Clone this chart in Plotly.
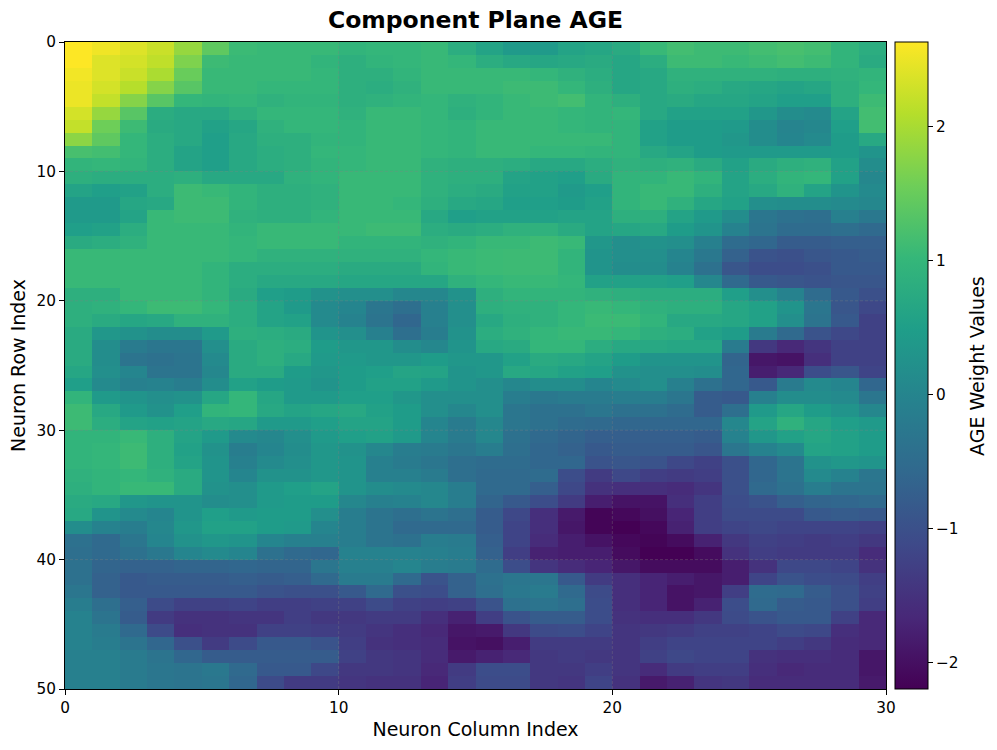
import plotly.graph_objects as go

W, H = 997, 750
FONT = "DejaVu Sans"
LEFT, RIGHT, TOP, BOTTOM = 65, 886, 42, 689

# weights, one list per neuron row (30 columns)
row_00 = [2.63, 2.53, 2.39, 2.24, 1.86, 1.42, 1.08, 1.05, 1.05, 1.05, .95, 1.0, 1.0, 1.05, .8, .6, .4, .4, .6, .65, .75, 1.05, 1.15, 1.1, 1.1, 1.15, 1.2, 1.15, .95, .8]
row_01 = [2.63, 2.39, 2.32, 2.17, 1.68, 1.1, 1.05, 1.05, 1.05, .95, .85, .95, 1.0, 1.05, 1.0, .8, .7, .65, .7, .75, .65, .8, 1.1, 1.1, 1.05, 1.1, 1.15, 1.1, .95, .75]
row_02 = [2.55, 2.39, 2.24, 2.02, 1.5, 1.05, 1.05, 1.05, 1.05, 1.0, .85, .85, .95, 1.05, 1.05, 1.05, 1.05, 1.0, .9, .8, .65, .7, .9, .9, .9, .9, .85, .85, .9, .95]
row_03 = [2.5, 2.32, 2.1, 1.73, 1.35, 1.05, 1.05, 1.0, 1.0, 1.0, .85, .8, .9, 1.05, 1.05, 1.05, 1.1, 1.1, 1.0, .85, .65, .7, .85, .8, .7, .65, .6, .65, .85, 1.0]
row_04 = [2.5, 2.2, 1.73, 1.35, 1.0, .95, 1.0, .9, .95, .95, .85, .9, .95, 1.0, .9, .95, 1.05, 1.1, 1.15, .95, .85, .7, .75, .65, .65, .6, .5, .5, .85, 1.1]
row_05 = [2.32, 1.86, 1.35, .78, .7, .7, .85, 1.0, 1.0, 1.0, .9, 1.05, 1.05, 1.0, .85, .95, 1.05, 1.05, 1.0, .95, 1.0, .7, .55, .55, .55, .35, .15, .1, .6, 1.15]
row_06 = [2.2, 1.55, 1.1, .75, .7, .55, .65, .9, 1.0, 1.0, .95, 1.05, 1.05, 1.0, .95, 1.05, 1.05, 1.05, 1.0, .95, .95, .55, .45, .45, .4, .15, -.02, .05, .5, 1.15]
row_07 = [1.78, 1.42, 1.0, .8, .7, .5, .7, .85, .85, .95, .95, 1.05, 1.05, 1.0, .95, 1.05, 1.05, 1.05, 1.05, 1.05, .95, .55, .45, .45, .35, .15, .0, .1, .45, .7]
row_08 = [1.2, 1.15, 1.0, .8, .6, .5, .7, .8, .85, 1.0, 1.0, 1.05, 1.05, 1.0, .95, 1.05, 1.05, 1.0, 1.0, .95, .95, .7, .6, .45, .4, .4, .4, .4, .45, .3]
row_09 = [.95, 1.0, .95, .8, .6, .5, .7, .8, .85, .95, 1.0, 1.05, 1.05, .9, .85, .85, .8, .7, .7, .8, .9, .85, .9, .75, .55, .75, .85, .9, .55, .15]
row_10 = [.85, .8, .8, .8, .85, .7, .7, .7, .9, .95, 1.05, 1.05, 1.05, .9, .85, .85, .6, .55, .5, .75, .95, .95, 1.05, .95, .6, .8, .95, 1.0, .55, .05]
row_11 = [.6, .5, .55, .8, 1.1, 1.05, .95, .85, .85, .9, 1.05, 1.05, 1.05, .9, .8, .75, .55, .55, .4, .5, .95, 1.05, 1.05, .85, .6, .7, .9, .6, .3, .1]
row_12 = [.4, .4, .65, .7, 1.1, 1.1, .95, .85, .85, .9, 1.05, 1.05, 1.0, .85, .7, .65, .5, .5, .45, .55, .95, 1.05, .9, .65, .55, .2, .15, .15, .1, .05]
row_13 = [.4, .4, .6, 1.05, 1.1, 1.1, .9, .85, .85, .95, 1.05, 1.05, 1.05, .7, .5, .55, .55, .55, .6, .6, .85, .85, .6, .4, .15, -.3, -.4, -.45, -.1, -.25]
row_14 = [.5, .55, .8, 1.05, 1.05, 1.05, .95, 1.05, 1.05, 1.05, 1.05, 1.1, 1.1, .8, .75, .8, .9, .9, .75, .6, .65, .7, .45, .3, -.05, -.35, -.5, -.5, -.45, -.55]
row_15 = [.75, .8, .9, 1.05, 1.05, 1.05, 1.0, 1.05, 1.05, 1.05, .95, .95, .95, .9, .95, 1.05, 1.05, 1.1, 1.05, .35, .2, .25, .2, -.1, -.5, -.6, -.8, -.8, -.75, -.75]
row_16 = [1.05, 1.05, 1.05, 1.05, 1.05, 1.05, 1.0, .9, .9, .9, .9, .9, .9, 1.0, 1.05, 1.08, 1.1, 1.1, .95, .3, .2, .2, .0, -.25, -.7, -.95, -1.0, -.9, -.85, -.8]
row_17 = [1.05, 1.05, 1.05, 1.05, 1.05, .95, .8, .8, .8, .8, .75, .75, .75, .95, 1.05, 1.08, 1.1, 1.1, .95, .3, .15, .15, -.05, -.4, -.9, -1.05, -1.05, -1.0, -.85, -.85]
row_18 = [1.05, 1.05, 1.05, 1.05, 1.05, .95, .8, .7, .7, .7, .65, .65, .65, .65, .9, 1.0, 1.05, 1.05, 1.0, .55, .55, .55, .5, .05, -.55, -.85, -.9, -.95, -.9, -.9]
row_19 = [.85, .85, 1.05, 1.05, 1.05, .95, .75, .5, .45, .25, .2, .2, .05, .05, .25, .85, .95, .95, .95, .9, .85, .8, .8, .8, .5, .2, -.05, -.5, -.85, -1.0]
row_20 = [.85, .9, 1.0, 1.1, 1.1, 1.0, .8, .6, .4, .1, .0, -.3, -.45, -.1, .2, .85, .9, .9, 1.0, 1.05, 1.0, .9, .85, .85, .65, .55, .3, -.3, -.9, -1.15]
row_21 = [.85, .75, .65, .7, .9, .9, .8, .6, .55, .1, -.05, -.35, -.6, -.1, .2, .7, .85, .9, 1.0, 1.08, 1.08, .95, .7, .7, .65, .55, .2, -.35, -.85, -1.25]
row_22 = [.75, .35, .25, .15, .15, .4, .85, .8, .75, .3, .2, -.1, -.45, -.15, .25, .8, .9, 1.0, 1.05, 1.05, 1.0, .85, .8, .55, .45, -.2, -.55, -.95, -1.15, -1.25]
row_23 = [.75, .15, -.2, -.3, -.3, .2, .75, .85, .8, .45, .35, .35, .15, .05, .3, .7, .75, 1.0, 1.0, .8, .7, .7, .65, .65, -.2, -1.4, -1.65, -1.45, -1.25, -1.25]
row_24 = [.75, .15, -.35, -.4, -.35, .1, .75, .85, .7, .4, .4, .35, .35, .45, .35, .35, .55, .75, .7, .6, .45, .3, .3, .3, -.65, -1.9, -1.95, -1.55, -1.25, -1.25]
row_25 = [.65, .2, .0, -.35, -.35, .05, .75, .75, .45, .35, .45, .5, .62, .6, .3, .35, .7, .65, .55, .5, .25, .2, .2, .15, -.6, -1.8, -1.65, -1.05, -.9, -1.2]
row_26 = [.5, .1, -.1, -.05, -.15, .15, .55, .45, .4, .3, .45, .55, .55, .4, .3, .2, .05, .15, .15, .0, .1, .2, -.1, -.4, -.6, -.85, -.2, .1, .0, -.6]
row_27 = [.95, .4, .3, .2, .25, .65, 1.0, .65, .4, .4, .5, .5, .35, .2, .2, .2, -.15, -.25, -.2, -.2, -.15, -.15, -.3, -.8, -.85, -.1, .15, .15, .1, -.3]
row_28 = [1.1, .7, .4, .25, .5, .95, 1.0, .7, .6, .65, .7, .55, .45, .2, .05, .2, -.3, -.4, -.4, -.3, -.4, -.4, -.5, -.8, -.45, .4, .65, .45, .3, .05]
row_29 = [1.1, .8, .6, .55, .6, .7, .65, .4, .4, .5, .6, .6, .45, .0, -.2, .05, -.3, -.4, -.5, -.55, -.6, -.6, -.6, -.6, .05, .6, .9, .65, .5, .4]
row_30 = [.95, .95, 1.05, .85, .6, .4, .1, .05, .2, .4, .5, .55, .4, .0, -.2, .05, -.4, -.55, -.65, -.75, -.75, -.75, -.75, -.8, -.05, .35, .55, .65, .55, .45]
row_31 = [.95, 1.0, 1.1, .85, .55, .25, -.15, .0, .15, .35, .25, .05, -.15, -.2, -.3, -.15, -.45, -.6, -.7, -.85, -.8, -.8, -.8, -.9, -.3, -.05, .1, .6, .55, .45]
row_32 = [.95, 1.0, 1.1, .85, .6, .3, -.1, .1, .2, .35, .3, -.1, -.2, -.3, -.45, -.5, -.5, -.6, -.6, -.95, -.9, -.95, -1.15, -1.25, -1.0, -.6, -.35, .25, .35, .3]
row_33 = [.9, .95, 1.0, .9, .75, .3, .0, .25, .25, .35, .3, -.1, -.1, -.2, -.45, -.55, -.55, -.5, -1.05, -1.35, -1.15, -1.3, -1.35, -1.3, -1.0, -.6, -.35, .1, -.05, -.3]
row_34 = [.85, .95, 1.05, 1.05, .75, .25, .2, .4, .5, .6, .3, .15, .1, .05, -.15, -.55, -.55, -.75, -1.15, -1.5, -1.55, -1.55, -1.6, -1.45, -1.0, -.55, -.4, -.15, -.35, -.35]
row_35 = [.75, .7, .35, .3, .3, .15, .2, .4, .45, .45, .05, -.1, -.05, .05, -.15, -.65, -.85, -1.05, -1.35, -1.8, -1.95, -1.95, -1.55, -1.3, -1.05, -.95, -.75, -.65, -.6, -.55]
row_36 = [.7, .3, .1, .0, .3, .5, .4, .45, .45, .2, -.15, -.35, -.45, -.35, -.45, -.8, -1.15, -1.55, -1.85, -2.15, -2.1, -2.0, -1.7, -1.3, -1.1, -1.1, -1.1, -.85, -.8, -.85]
row_37 = [.15, -.05, -.15, .05, .35, .55, .55, .45, .4, .0, -.15, -.35, -.55, -.55, -.55, -.8, -1.2, -1.55, -1.9, -2.15, -2.2, -2.1, -1.75, -1.3, -1.2, -1.15, -1.2, -1.2, -1.2, -1.25]
row_38 = [-.4, -.55, -.3, .0, .25, .35, .3, .0, -.1, -.1, -.15, -.35, -.4, -.15, -.2, -.75, -1.2, -1.6, -1.8, -1.95, -2.1, -2.15, -2.05, -1.75, -1.4, -1.25, -1.3, -1.35, -1.3, -1.4]
row_39 = [-.45, -.55, -.4, -.25, .0, .1, .0, -.4, -.55, -.6, -.05, -.05, -.05, -.1, -.15, -.7, -1.3, -1.75, -1.8, -1.8, -2.05, -2.2, -2.2, -2.05, -1.5, -1.3, -1.35, -1.35, -1.35, -1.6]
row_40 = [-.4, -.65, -.7, -.7, -.65, -.65, -.6, -.65, -.65, -.3, -.1, -.1, .0, -.15, -.2, -.5, -1.05, -1.45, -1.6, -1.7, -1.9, -2.05, -2.05, -2.05, -1.8, -1.5, -1.15, -1.15, -1.2, -1.5]
row_41 = [-.4, -.7, -.85, -.8, -.8, -.8, -.75, -.8, -.75, -.55, -.2, -.2, -.55, -.95, -.7, -.4, -.3, -.3, -.85, -1.35, -1.55, -1.7, -1.8, -1.9, -1.8, -1.2, -.95, -1.05, -1.1, -1.3]
row_42 = [-.3, -.7, -.85, -.85, -.85, -.85, -.85, -.95, -1.0, -1.0, -.85, -.55, -1.0, -1.05, -.7, -.45, -.25, -.2, -.55, -1.1, -1.55, -1.7, -1.95, -1.9, -1.3, -.5, -.55, -.8, -1.0, -1.25]
row_43 = [-.15, -.45, -.75, -1.1, -1.25, -1.25, -1.2, -1.3, -1.3, -1.25, -1.25, -1.1, -1.25, -1.3, -1.25, -.95, -.4, -.35, -.45, -1.05, -1.55, -1.7, -1.95, -1.75, -1.05, -.55, -.8, -.85, -1.0, -1.3]
row_44 = [-.05, -.35, -.8, -1.35, -1.5, -1.5, -1.45, -1.45, -1.3, -1.4, -1.4, -1.35, -1.35, -1.55, -1.75, -1.3, -.95, -.8, -.8, -1.05, -1.5, -1.55, -1.55, -1.4, -1.1, -.95, -.85, -.85, -1.25, -1.65]
row_45 = [-.05, -.2, -.55, -1.1, -1.55, -1.5, -1.5, -1.25, -1.25, -1.3, -1.35, -1.45, -1.55, -1.65, -1.9, -1.85, -1.4, -1.1, -1.05, -1.2, -1.45, -1.4, -1.35, -1.25, -1.25, -1.2, -1.1, -1.15, -1.55, -1.65]
row_46 = [-.05, -.15, -.35, -.6, -1.0, -1.35, -1.1, -.85, -.85, -.95, -1.3, -1.5, -1.55, -1.6, -1.95, -2.0, -1.8, -1.35, -1.35, -1.35, -1.45, -1.3, -1.2, -1.2, -1.2, -1.2, -1.3, -1.4, -1.6, -1.65]
row_47 = [-.1, -.1, -.2, -.35, -.6, -.8, -.8, -.8, -.8, -.8, -1.25, -1.4, -1.45, -1.6, -1.85, -1.75, -1.65, -1.4, -1.35, -1.4, -1.45, -1.25, -1.15, -1.2, -1.2, -1.5, -1.55, -1.55, -1.6, -1.9]
row_48 = [-.1, -.1, -.2, -.3, -.35, -.25, -.55, -.85, -.85, -1.15, -1.4, -1.4, -1.45, -1.65, -1.35, -1.05, -1.05, -1.4, -1.4, -1.3, -1.45, -1.6, -1.35, -1.3, -1.3, -1.55, -1.65, -1.6, -1.6, -1.9]
row_49 = [-.1, -.1, -.2, -.3, -.35, -.3, -.6, -1.1, -1.35, -1.35, -1.45, -1.5, -1.5, -1.7, -1.3, -1.1, -1.1, -1.4, -1.45, -1.2, -1.5, -1.85, -1.75, -1.45, -1.4, -1.6, -1.6, -1.6, -1.6, -1.85]

weights = [
    row_00, row_01, row_02, row_03, row_04, row_05, row_06, row_07, row_08, row_09,
    row_10, row_11, row_12, row_13, row_14, row_15, row_16, row_17, row_18, row_19,
    row_20, row_21, row_22, row_23, row_24, row_25, row_26, row_27, row_28, row_29,
    row_30, row_31, row_32, row_33, row_34, row_35, row_36, row_37, row_38, row_39,
    row_40, row_41, row_42, row_43, row_44, row_45, row_46, row_47, row_48, row_49,
]

x_ticks = [0, 10, 20, 30]
y_ticks = [0, 10, 20, 30, 40, 50]
cbar_ticks = [-2, -1, 0, 1, 2]

fig = go.Figure(go.Heatmap(
    z=weights,
    x0=0.5, dx=1,
    y0=0.5, dy=1,
    colorscale="Viridis",
    zmin=-2.2, zmax=2.63,
    colorbar=dict(
        x=(895 - LEFT) / (RIGHT - LEFT), xanchor="left", xpad=0,
        y=1, yanchor="top", ypad=0,
        len=1, lenmode="fraction",
        thickness=33, thicknessmode="pixels",
        outlinecolor="black", outlinewidth=1,
        tickvals=cbar_ticks, ticks="outside", ticklen=5, tickcolor="black",
        tickfont=dict(family=FONT, size=15.3, color="black"),
    ),
))

# dashed grid on top of the image
for v in x_ticks[1:-1]:
    fig.add_vline(x=v, line=dict(color="rgba(128,128,128,0.35)", width=1, dash="3px,2px"), layer="above")
for v in y_ticks[1:-1]:
    fig.add_hline(y=v, line=dict(color="rgba(128,128,128,0.35)", width=1, dash="3px,2px"), layer="above")

# colorbar label sits further out than plotly's own colorbar title allows
fig.add_annotation(
    text="AGE Weight Values", textangle=-90, showarrow=False,
    xref="paper", yref="paper", x=(977 - LEFT) / (RIGHT - LEFT), y=(BOTTOM - 366) / (BOTTOM - TOP),
    xanchor="center", yanchor="middle",
    font=dict(family=FONT, size=19, color="black"),
)

axis_style = dict(
    showline=True, mirror=True, linecolor="black", linewidth=1,
    ticks="outside", ticklen=5, tickcolor="black", showgrid=False, zeroline=False,
    tickfont=dict(family=FONT, size=15.3, color="black"),
)

fig.update_layout(
    width=W, height=H,
    margin=dict(l=LEFT, r=W - RIGHT, t=TOP, b=H - BOTTOM),
    paper_bgcolor="white", plot_bgcolor="white",
    title=dict(text="<b>Component Plane AGE</b>", xref="container", x=475.5 / W, xanchor="center",
               yref="container", y=1 - 20 / H, yanchor="middle",
               font=dict(family=FONT, size=23.5, color="black")),
    xaxis=dict(axis_style, range=[0, 30], tickvals=x_ticks,
               title=dict(text="Neuron Column Index", standoff=6,
                          font=dict(family=FONT, size=19, color="black"))),
    yaxis=dict(axis_style, range=[50, 0], tickvals=y_ticks,
               title=dict(text="Neuron Row Index", standoff=5,
                          font=dict(family=FONT, size=19, color="black"))),
)

fig.write_html("out.html", config=dict(displayModeBar=False),
               post_script="document.body.style.margin='0';document.body.style.overflow='hidden';")
